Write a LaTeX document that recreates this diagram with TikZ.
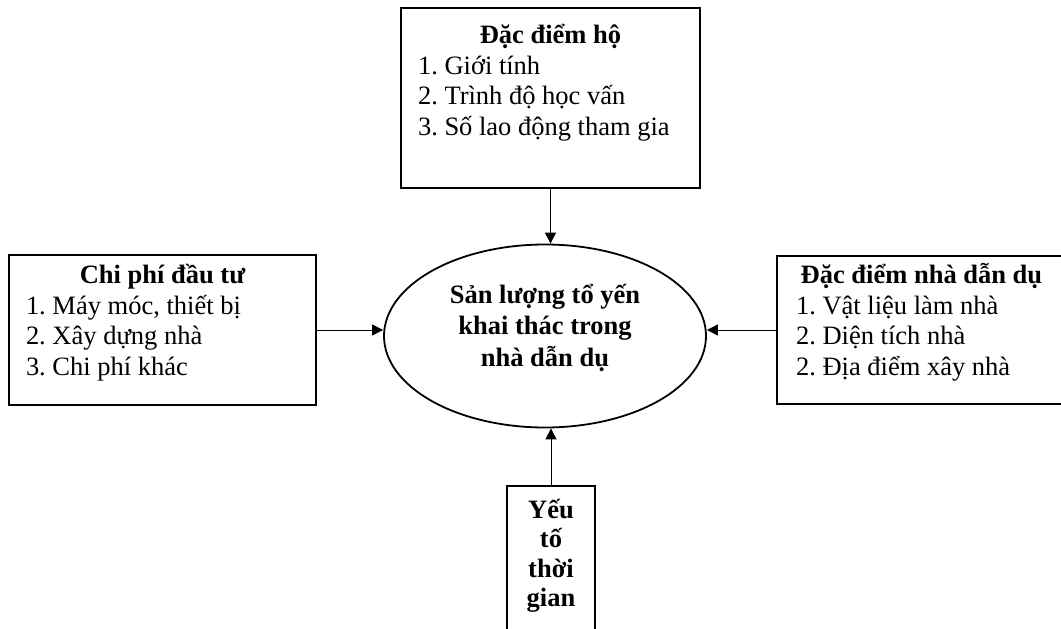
\documentclass[tikz,border=0pt]{standalone}
\usepackage{fontspec}
\setmainfont{Liberation Serif}
\usepackage{tikz}
\usetikzlibrary{shapes.geometric, arrows.meta, positioning}
\newcommand{\plainsp}{\spaceskip=0pt\xspaceskip=0pt\frenchspacing}

\begin{document}
\begin{tikzpicture}[x=1pt, y=-1pt,
    box/.style={draw, line width=1.8pt, inner sep=0pt},
    boxtext/.style={inner sep=0pt, anchor=north, align=flush left, font=\fontsize{26.5}{30.7}\selectfont},
    link/.style={-{Triangle[length=11pt,width=11pt]}, line width=1pt}]
        \useasboundingbox (0,0) rectangle (1061,629);
        \clip (0,0) rectangle (1061,629);

        % Central outcome
        \node[ellipse, draw, line width=1.8pt, minimum width=322pt, minimum height=183pt] (san) at (545,336) {};
        \node[inner sep=0pt, anchor=north, align=center, font=\fontsize{26.5}{31.5}\selectfont\bfseries] (santext) at (545,284) {Sản lượng tổ yến\\khai thác trong\\nhà dẫn dụ};

        % Household box
        \node[box, minimum width=299pt, minimum height=180pt] (ho) at (550.5,98) {};
        \node[boxtext, text width=265pt] (hotext) at (550.5,24) {\plainsp{\centering\bfseries Đặc điểm hộ\par}1. Giới tính\\2. Trình độ học vấn\\3. Số lao động tham gia};

        % Investment cost box
        \node[box, minimum width=307pt, minimum height=150pt] (cp) at (162.5,330) {};
        \node[boxtext, text width=273pt] (cptext) at (162.5,264) {\plainsp{\centering\bfseries Chi phí đầu tư\par}1. Máy móc, thiết bị\\2. Xây dựng nhà\\3. Chi phí khác};

        % Bird house box
        \node[box, minimum width=289pt, minimum height=148pt] (nha) at (921.5,330) {};
        \node[boxtext, text width=251pt] (nhatext) at (921.5,263) {\plainsp{\centering\bfseries Đặc điểm nhà dẫn dụ\par}1. Vật liệu làm nhà\\2. Diện tích nhà\\2. Địa điểm xây nhà};

        % Time box
        \node[box, minimum width=88pt, minimum height=154pt] (tg) at (551,563) {};
        \node[inner sep=0pt, anchor=north, align=center, font=\fontsize{26.5}{29.5}\selectfont\bfseries] (tgtext) at (551,499) {Yếu\\tố\\thời\\gian};

        % Arrows to outcome
        \draw[link] (ho.south) -- (ho.south |- san.north);
        \draw[link] (cp.east) -- (cp.east -| san.west);
        \draw[link] (nha.west) -- (nha.west -| san.east);
        \draw[link] (tg.north) -- (tg.north |- san.south);
    \end{tikzpicture}
\end{document}
